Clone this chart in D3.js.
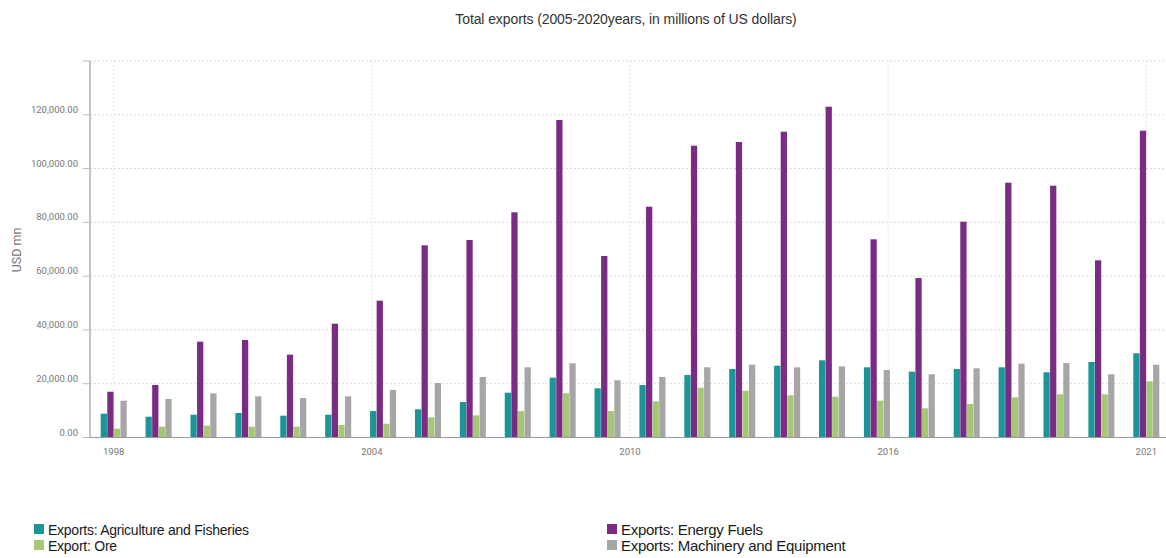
<!DOCTYPE html>
<html>
<head>
<meta charset="utf-8">
<script src="https://cdn.jsdelivr.net/npm/d3@7/dist/d3.min.js"></script>
<style>
  html, body { margin: 0; padding: 0; background: #fff; }
  svg { display: block; }
</style>
</head>
<body>
<svg id="chart" width="1166" height="558"></svg>
<script>
const years = ["1998","1999","2000","2001","2002","2003","2004","2005","2006","2007","2008","2009","2010","2011","2012","2013","2014","2015","2016","2017","2018","2019","2020","2021"];
const agriculture = [8850,7730,8480,9110,8110,8480,9850,10490,13200,16660,22240,18290,19520,23240,25470,26700,28710,26100,24470,25470,26100,24240,28070,31310];
const energy = [17030,19520,35630,36250,30790,42320,50870,71470,73440,83740,118060,67490,85820,108510,109880,113710,123010,73700,59310,80250,94750,93630,65890,114080];
const ore = [3270,4020,4390,4020,4020,4650,5130,7510,8250,9850,16430,9850,13460,18520,17400,15690,15170,13690,10860,12460,14950,16060,16060,20900];
const machinery = [13690,14320,16430,15320,14690,15320,17660,20270,22500,26100,27590,21270,22500,26100,27070,26100,26470,25100,23500,25730,27440,27700,23500,27070];
const seriesNames = ["Exports: Agriculture and Fisheries","Exports: Energy Fuels","Export: Ore","Exports: Machinery and Equipment"];
const seriesColors = ["#1b9597","#7a2c84","#a6c874","#a6a6a6"];
const xTickLabels = ["1998","2004","2010","2016","2021"];
const yTicks = [0,20000,40000,60000,80000,100000,120000,140000];
const chartTitle = "Total exports (2005-2020years, in millions of US dollars)";
const yTitle = "USD mn";

const seriesData = [agriculture, energy, ore, machinery];

const svg = d3.select("#chart");
const W = 1166, H = 558;
const pLeft = 90, pRight = 1170, pTop = 61, pBottom = 437.5;

const x = d3.scaleBand().domain(years).range([pLeft, pRight]).paddingInner(0.42).paddingOuter(0.238);
const sub = d3.scaleBand().domain(d3.range(seriesNames.length)).range([0, x.bandwidth()]).paddingInner(0.05);
const y = d3.scaleLinear().domain([0, 140000]).range([pBottom, pTop]);

const firstC = x(years[0]) + x.bandwidth()/2;
const lastC = x(years[years.length-1]) + x.bandwidth()/2;
const tickPos = d3.scaleLinear().domain([0, xTickLabels.length - 1]).range([firstC, lastC]);

// title
svg.append("text").attr("x", 626).attr("y", 24).attr("text-anchor", "middle")
  .attr("font-family", "Liberation Sans, Arial, sans-serif").attr("font-size", 14).attr("fill", "#333")
  .attr("letter-spacing", "-0.1")
  .text(chartTitle);

// horizontal grid
svg.append("g").selectAll("line").data(yTicks).join("line")
  .attr("x1", pLeft).attr("x2", W).attr("y1", d => y(d)).attr("y2", d => y(d))
  .attr("stroke", "#d8d8d8").attr("stroke-width", 1).attr("stroke-dasharray", "2,2");

// vertical grid
svg.append("g").selectAll("line").data(xTickLabels).join("line")
  .attr("x1", (d,i) => tickPos(i)).attr("x2", (d,i) => tickPos(i))
  .attr("y1", pTop).attr("y2", pBottom + 5)
  .attr("stroke", "#e6e6e6").attr("stroke-width", 1).attr("stroke-dasharray", "2,2");

// bars
const g = svg.append("g");
years.forEach((yr, i) => {
  seriesData.forEach((s, k) => {
    g.append("rect")
      .attr("x", x(yr) + sub(k))
      .attr("y", y(s[i]))
      .attr("width", sub.bandwidth())
      .attr("height", y(0) - y(s[i]))
      .attr("fill", seriesColors[k]);
  });
});

// y axis
const yAxis = svg.append("g");
yAxis.append("line").attr("x1", pLeft).attr("x2", pLeft).attr("y1", pTop).attr("y2", pBottom)
  .attr("stroke", "#9a9a9a").attr("stroke-width", 1.2);
yAxis.selectAll("line.tick").data(yTicks).join("line").attr("class", "tick")
  .attr("x1", pLeft - 7).attr("x2", pLeft).attr("y1", d => y(d)).attr("y2", d => y(d))
  .attr("stroke", "#bbb").attr("stroke-width", 1);
yAxis.selectAll("text").data(yTicks.filter(d => d < 140000)).join("text")
  .attr("x", 78).attr("y", d => y(d) - 2).attr("text-anchor", "end")
  .attr("font-family", "Roboto, sans-serif").attr("font-size", 9.5).attr("fill", "#777")
  .text(d => d3.format(",.2f")(d));

svg.append("text").attr("transform", "translate(21,250) rotate(-90)").attr("text-anchor", "middle")
  .attr("font-family", "Roboto, sans-serif").attr("font-size", 12.5).attr("fill", "#777").text(yTitle);

// x axis
svg.append("line").attr("x1", pLeft).attr("x2", W).attr("y1", pBottom).attr("y2", pBottom)
  .attr("stroke", "#9a9a9a").attr("stroke-width", 1.2);
svg.append("g").selectAll("text").data(xTickLabels).join("text")
  .attr("x", (d,i) => tickPos(i)).attr("y", 455).attr("text-anchor", "middle")
  .attr("font-family", "Roboto, sans-serif").attr("font-size", 9.5).attr("fill", "#777")
  .text(d => d);

// legend
const legendItems = [
  {k: 0, x: 34, y: 524, fs: 14, ls: -0.25},
  {k: 2, x: 34, y: 540, fs: 14, ls: -0.25},
  {k: 1, x: 607, y: 524, fs: 15, ls: -0.28},
  {k: 3, x: 607, y: 540, fs: 15, ls: -0.28}
];
const lg = svg.append("g");
legendItems.forEach(it => {
  lg.append("rect").attr("x", it.x).attr("y", it.y).attr("width", 10).attr("height", 10)
    .attr("fill", seriesColors[it.k]);
  lg.append("text").attr("x", it.x + 14).attr("y", it.y + 10.5)
    .attr("font-family", "Liberation Sans, Arial, sans-serif").attr("font-size", it.fs).attr("fill", "#1a1a1a")
    .attr("letter-spacing", it.ls)
    .text(seriesNames[it.k]);
});
</script>
</body>
</html>
